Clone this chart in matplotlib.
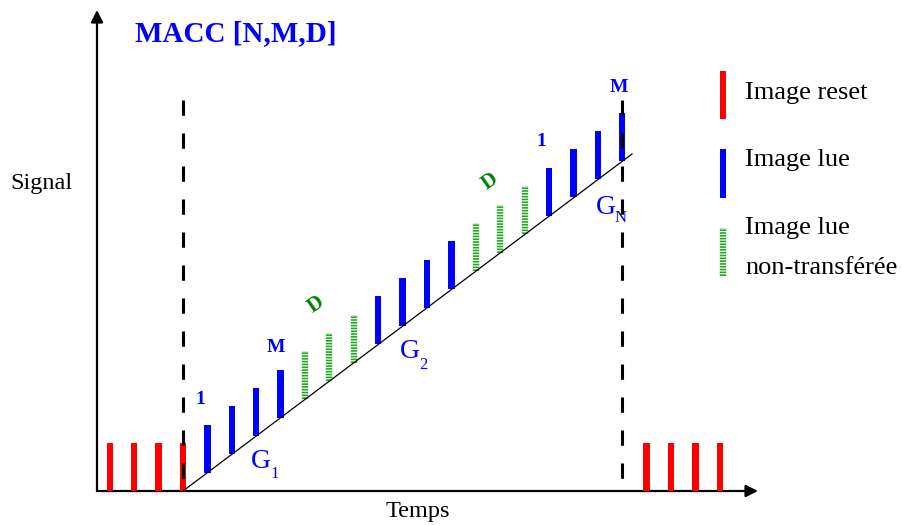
import matplotlib
matplotlib.use("Agg")
import matplotlib.pyplot as plt

plt.rcParams['font.family'] = ['Liberation Serif', 'DejaVu Serif']

# Data (time in frame units, signal in arbitrary units)
reset_t_left = [-3, -2, -1, 0]
reset_t_right = [19, 20, 21, 22]
reset_height = 48

read_t = [1, 2, 3, 4, 8, 9, 10, 11, 15, 16, 17, 18]
read_base = [18, 37, 55, 73, 147, 165, 183, 202, 275, 294, 312, 330]

skip_t = [5, 6, 7, 12, 13, 14]
skip_base = [92, 110, 128, 220, 238, 257]

frame_height = 48

ramp_t = [0, 18.4]
ramp_s = [0, 337]

group_t = [0, 18]   # start / end of the MACC sequence

RED = '#ff0000'
BLUE = '#0000ff'
GREEN = '#1faa1f'
DGREEN = '#008000'

# pixel -> data helper for placing annotations
def px(x, y):
    return ((x - 183) / 24.4, 491 - y)

fig = plt.figure(figsize=(9.02, 5.25), dpi=100)
ax = fig.add_axes([0, 0, 1, 1])
ax.set_xlim(px(0, 0)[0], px(902, 0)[0])
ax.set_ylim(px(0, 525)[1], px(0, 0)[1])
ax.axis('off')

# axes with arrows
x0, y0 = px(97, 491)
ax.annotate('', xy=px(758, 491), xytext=(x0, y0),
            arrowprops=dict(arrowstyle='-|>', color='black', lw=1.6, mutation_scale=18, shrinkA=0, shrinkB=0))
ax.annotate('', xy=px(97, 10), xytext=(x0, y0),
            arrowprops=dict(arrowstyle='-|>', color='black', lw=1.6, mutation_scale=18, shrinkA=0, shrinkB=0))

# reset frames
bw = 6.5 / 24.4
ax.bar(reset_t_left + reset_t_right, reset_height, width=bw, color=RED, zorder=3)

# read frames
ax.bar(read_t, frame_height, bottom=read_base, width=bw, color=BLUE, zorder=3)

# read but not transferred frames (striped)
ax.vlines(skip_t, skip_base, [b + frame_height for b in skip_base], colors=GREEN,
          linewidth=4.6, linestyles=[(0, (0.26, 0.18))], zorder=3)

# ramp
ax.plot(ramp_t, ramp_s, color='black', lw=0.9, zorder=4)

# dashed group limits (drawn top -> bottom so the pattern starts at the top)
ax.vlines(group_t, px(0, 100)[1], 0, colors='black', linewidth=2.2,
          linestyles=[(0, (5.0, 5.8))], zorder=5)

# texts
ax.text(*px(135, 34), 'MACC [N,M,D]', color=BLUE, fontsize=21, fontweight='bold', va='center', ha='left')
ax.text(*px(10, 183), 'Signal', fontsize=17.5, va='center', ha='left')
ax.text(*px(418, 512), 'Temps', fontsize=17.5, va='center', ha='center')

ax.text(*px(200, 400), '1', color=BLUE, fontsize=14, fontweight='bold', ha='center', va='center')
ax.text(*px(276, 347), 'M', color=BLUE, fontsize=14, fontweight='bold', ha='center', va='center')
ax.text(*px(316, 305), 'D', color=DGREEN, fontsize=15, fontweight='bold', ha='center', va='center', rotation=35)
ax.text(*px(490, 182), 'D', color=DGREEN, fontsize=15, fontweight='bold', ha='center', va='center', rotation=35)
ax.text(*px(541, 141), '1', color=BLUE, fontsize=14, fontweight='bold', ha='center', va='center')
ax.text(*px(619, 88), 'M', color=BLUE, fontsize=14, fontweight='bold', ha='center', va='center')

for gx, gy, sub, sx, sy in [(251, 462, '1', 270, 474), (400, 352, '2', 419, 365), (596, 207, 'N', 615, 218)]:
    ax.text(*px(gx, gy), 'G', color=BLUE, fontsize=20, ha='left', va='center')
    ax.text(*px(sx, sy), sub, color=BLUE, fontsize=12, ha='left', va='center')

# legend
lx = px(723, 0)[0]
ax.bar([lx], [px(0, 71)[1] - px(0, 119)[1]], bottom=[px(0, 119)[1]], width=bw, color=RED)
ax.bar([lx], [px(0, 149)[1] - px(0, 198)[1]], bottom=[px(0, 198)[1]], width=bw, color=BLUE)
ax.vlines([lx], px(0, 276)[1], px(0, 228)[1], colors=GREEN, linewidth=4.6, linestyles=[(0, (0.26, 0.18))])
ax.text(*px(745, 93), 'Image reset', fontsize=19, va='center', ha='left')
ax.text(*px(745, 160), 'Image lue', fontsize=19, va='center', ha='left')
ax.text(*px(745, 228), 'Image lue', fontsize=19, va='center', ha='left')
ax.text(*px(745, 268), 'non-transférée', fontsize=19, va='center', ha='left')

fig.savefig('out.png', dpi=100)
